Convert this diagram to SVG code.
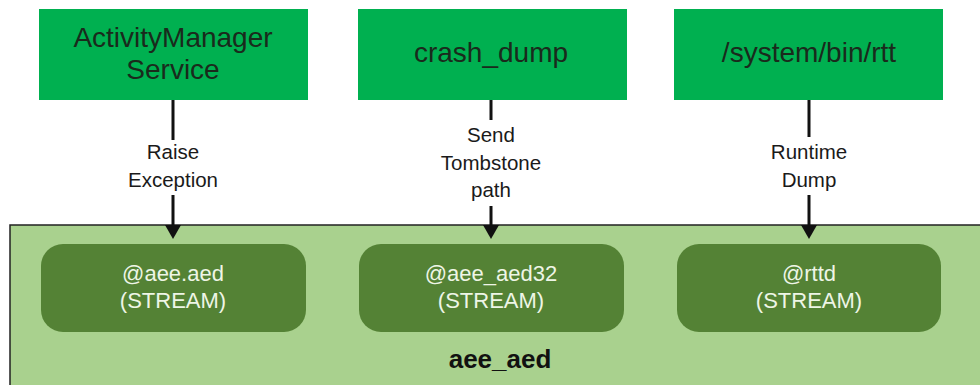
<svg xmlns="http://www.w3.org/2000/svg" width="980" height="385" viewBox="0 0 980 385">
  <style>
    .src { fill: #00b050; }
    .src-text { font-family: "Liberation Sans", Arial, sans-serif; font-size: 28px; fill: #1a2a1c; text-anchor: middle; }
    .sock { fill: #548235; }
    .sock-text { font-family: "Liberation Sans", Arial, sans-serif; font-size: 22px; fill: #eef5e6; text-anchor: middle; }
    .lbl { font-family: "Liberation Sans", Arial, sans-serif; font-size: 20.5px; fill: #1a1a1a; text-anchor: middle; }
    .edge { stroke: #111; stroke-width: 3; fill: none; }
    .head { fill: #111; }
  </style>

  <rect width="980" height="385" fill="#ffffff"/>

  <!-- aee_aed daemon container -->
  <g id="aee_aed">
    <rect x="10" y="225" width="985" height="175" fill="#a9d18e" stroke="#222" stroke-width="1.5"/>
    <text x="500" y="368" font-family="Liberation Sans, Arial, sans-serif" font-size="26" font-weight="bold" fill="#111" text-anchor="middle">aee_aed</text>
  </g>

  <!-- client processes -->
  <g id="ams">
    <rect class="src" x="39" y="9" width="269" height="91"/>
    <text class="src-text" x="173" y="47">ActivityManager</text>
    <text class="src-text" x="173" y="79">Service</text>
  </g>
  <g id="crash_dump">
    <rect class="src" x="358" y="9" width="269" height="91"/>
    <text class="src-text" x="491" y="62">crash_dump</text>
  </g>
  <g id="rtt">
    <rect class="src" x="674" y="9" width="269" height="91"/>
    <text class="src-text" x="809" y="62">/system/bin/rtt</text>
  </g>

  <!-- sockets -->
  <g id="sock_aed">
    <rect class="sock" x="41" y="244" width="265" height="88" rx="22"/>
    <text class="sock-text" x="173" y="281">@aee.aed</text>
    <text class="sock-text" x="173" y="308">(STREAM)</text>
  </g>
  <g id="sock_aed32">
    <rect class="sock" x="359" y="244" width="265" height="88" rx="22"/>
    <text class="sock-text" x="491" y="281">@aee_aed32</text>
    <text class="sock-text" x="491" y="308">(STREAM)</text>
  </g>
  <g id="sock_rttd">
    <rect class="sock" x="677" y="244" width="264" height="88" rx="22"/>
    <text class="sock-text" x="809" y="281">@rttd</text>
    <text class="sock-text" x="809" y="308">(STREAM)</text>
  </g>

  <!-- connectors -->
  <g id="edges">
    <path class="edge" d="M173 100 V140 M173 195 V228"/>
    <path class="head" d="M165 225 L181 225 L173 239 Z"/>
    <text class="lbl" x="173" y="159">Raise</text>
    <text class="lbl" x="173" y="187">Exception</text>

    <path class="edge" d="M491 100 V120 M491 206 V228"/>
    <path class="head" d="M483 225 L499 225 L491 239 Z"/>
    <text class="lbl" x="491" y="142">Send</text>
    <text class="lbl" x="491" y="170">Tombstone</text>
    <text class="lbl" x="491" y="197">path</text>

    <path class="edge" d="M809 100 V137 M809 195 V228"/>
    <path class="head" d="M801 225 L817 225 L809 239 Z"/>
    <text class="lbl" x="809" y="159">Runtime</text>
    <text class="lbl" x="809" y="187">Dump</text>
  </g>
</svg>
